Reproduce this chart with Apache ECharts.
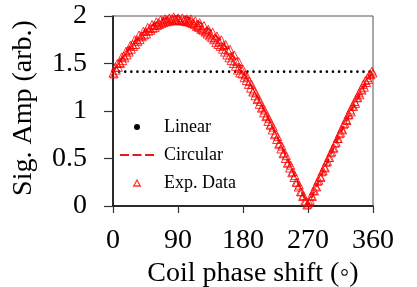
<!DOCTYPE html>
<html><head><meta charset="utf-8">
<script src="https://cdn.jsdelivr.net/npm/echarts@6/dist/echarts.min.js"></script>
<style>html,body{margin:0;padding:0;background:#fff}#c{width:417px;height:287px}</style>
</head><body><div id="c"></div>
<script>
// x ticks
const xTicks = [0, 90, 180, 270, 360];
const yTicks = [0, 0.5, 1, 1.5, 2];
// Linear (constant level)
const linearX = [0, 360];
const linearY = [1.414, 1.414];
// Circular model curve (every 5 deg)
const circX = [0,5,10,15,20,25,30,35,40,45,50,55,60,65,70,75,80,85,90,95,100,105,110,115,120,125,130,135,140,145,150,155,160,165,170,175,180,185,190,195,200,205,210,215,220,225,230,235,240,245,250,255,260,265,270,275,280,285,290,295,300,305,310,315,320,325,330,335,340,345,350,355,360];
const circY = [1.414,1.475,1.532,1.587,1.638,1.687,1.732,1.774,1.813,1.848,1.879,1.907,1.932,1.953,1.970,1.983,1.992,1.998,2.000,1.998,1.992,1.983,1.970,1.953,1.932,1.907,1.879,1.848,1.813,1.774,1.732,1.687,1.638,1.587,1.532,1.475,1.414,1.351,1.286,1.218,1.147,1.075,1.000,0.923,0.845,0.765,0.684,0.601,0.518,0.433,0.347,0.261,0.174,0.087,0.000,0.087,0.174,0.261,0.347,0.433,0.518,0.601,0.684,0.765,0.845,0.923,1.000,1.075,1.147,1.218,1.286,1.351,1.414];
// Experimental data, sweep 1 (every 3 deg)
const expX1 = [0,3,6,9,12,15,18,21,24,27,30,33,36,39,42,45,48,51,54,57,60,63,66,69,72,75,78,81,84,87,90,93,96,99,102,105,108,111,114,117,120,123,126,129,132,135,138,141,144,147,150,153,156,159,162,165,168,171,174,177,180,183,186,189,192,195,198,201,204,207,210,213,216,219,222,225,228,231,234,237,240,243,246,249,252,255,258,261,264,267,270,273,276,279,282,285,288,291,294,297,300,303,306,309,312,315,318,321,324,327,330,333,336,339,342,345,348,351,354,357,360];
const expY1 = [1.40,1.46,1.50,1.51,1.57,1.58,1.63,1.64,1.69,1.70,1.75,1.75,1.80,1.79,1.84,1.84,1.88,1.87,1.91,1.90,1.94,1.93,1.96,1.95,1.97,1.96,1.98,1.97,1.99,1.96,1.98,1.95,1.98,1.96,1.97,1.95,1.97,1.93,1.95,1.90,1.93,1.87,1.90,1.84,1.86,1.81,1.83,1.77,1.79,1.73,1.75,1.69,1.70,1.64,1.65,1.58,1.59,1.52,1.52,1.45,1.44,1.38,1.36,1.31,1.28,1.22,1.19,1.13,1.10,1.04,1.01,0.95,0.92,0.86,0.83,0.76,0.73,0.66,0.63,0.56,0.53,0.46,0.43,0.36,0.32,0.25,0.22,0.15,0.11,0.05,0.02,0.06,0.10,0.16,0.20,0.27,0.30,0.37,0.40,0.47,0.51,0.57,0.61,0.67,0.71,0.77,0.80,0.87,0.90,0.96,0.99,1.05,1.08,1.14,1.17,1.22,1.25,1.30,1.33,1.38,1.40];
// Experimental data, sweep 2 (every 3 deg, offset 1.5 deg)
const expX2 = [1.5,4.5,7.5,10.5,13.5,16.5,19.5,22.5,25.5,28.5,31.5,34.5,37.5,40.5,43.5,46.5,49.5,52.5,55.5,58.5,61.5,64.5,67.5,70.5,73.5,76.5,79.5,82.5,85.5,88.5,91.5,94.5,97.5,100.5,103.5,106.5,109.5,112.5,115.5,118.5,121.5,124.5,127.5,130.5,133.5,136.5,139.5,142.5,145.5,148.5,151.5,154.5,157.5,160.5,163.5,166.5,169.5,172.5,175.5,178.5,181.5,184.5,187.5,190.5,193.5,196.5,199.5,202.5,205.5,208.5,211.5,214.5,217.5,220.5,223.5,226.5,229.5,232.5,235.5,238.5,241.5,244.5,247.5,250.5,253.5,256.5,259.5,262.5,265.5,268.5,271.5,274.5,277.5,280.5,283.5,286.5,289.5,292.5,295.5,298.5,301.5,304.5,307.5,310.5,313.5,316.5,319.5,322.5,325.5,328.5,331.5,334.5,337.5,340.5,343.5,346.5,349.5,352.5,355.5,358.5];
const expY2 = [1.39,1.43,1.46,1.50,1.53,1.56,1.59,1.62,1.65,1.68,1.70,1.73,1.75,1.78,1.80,1.81,1.84,1.85,1.87,1.88,1.90,1.91,1.92,1.93,1.94,1.94,1.95,1.95,1.96,1.95,1.96,1.95,1.95,1.94,1.94,1.93,1.92,1.91,1.89,1.88,1.86,1.85,1.83,1.81,1.79,1.77,1.75,1.72,1.70,1.68,1.65,1.62,1.59,1.56,1.53,1.50,1.47,1.43,1.40,1.39,1.35,1.32,1.28,1.24,1.20,1.16,1.12,1.07,1.03,0.98,0.94,0.89,0.85,0.80,0.75,0.70,0.65,0.60,0.55,0.50,0.45,0.40,0.35,0.30,0.25,0.20,0.15,0.10,0.05,0.01,0.04,0.11,0.16,0.21,0.26,0.31,0.36,0.41,0.46,0.51,0.56,0.61,0.66,0.71,0.76,0.81,0.86,0.91,0.96,1.01,1.05,1.10,1.14,1.19,1.23,1.28,1.32,1.35,1.39,1.42];

const zip = (a, b) => a.map((v, i) => [v, b[i]]);
const serif = 'Liberation Serif';
const chart = echarts.init(document.getElementById('c'), null, {renderer: 'canvas'});
chart.setOption({
  animation: false,
  backgroundColor: '#fff',
  grid: {left: 113, right: 44, top: 16, bottom: 81, show: true, borderColor: '#555', borderWidth: 1,
    containLabel: false, outerBoundsMode: 'none'},
  xAxis: {
    type: 'value', min: 0, max: 360, interval: 90,
    name: 'Coil phase shift (\u25E6)', nameLocation: 'middle', nameGap: 42,
    nameTextStyle: {fontFamily: serif, fontSize: 28, color: '#000', padding: [0, 0, 0, 20]},
    axisLine: {show: true, lineStyle: {color: '#000', width: 1.5}},
    axisTick: {show: true, length: 7, inside: false, lineStyle: {color: '#333', width: 1.2}},
    axisLabel: {fontFamily: serif, fontSize: 28, color: '#000', margin: 21,
      formatter: v => xTicks.includes(v) ? String(v) : ''},
    splitLine: {show: false}
  },
  yAxis: {
    type: 'value', min: 0, max: 2, interval: 0.5,
    name: 'Sig. Amp (arb.)', nameLocation: 'middle', nameGap: 75, nameRotate: 90,
    nameTextStyle: {fontFamily: serif, fontSize: 28, color: '#000', padding: [0, 0, 0, 6]},
    axisLine: {show: true, lineStyle: {color: '#000', width: 1.5}},
    axisTick: {show: true, length: 9, inside: false, lineStyle: {color: '#333', width: 1.2}},
    axisLabel: {fontFamily: serif, fontSize: 28, color: '#000', margin: 26,
      formatter: v => yTicks.includes(v) ? String(v) : ''},
    splitLine: {show: false}
  },
  legend: {
    orient: 'vertical', left: 115, top: 113,
    itemWidth: 34, itemHeight: 6, itemGap: 10,
    symbolKeepAspect: true,
    textStyle: {fontFamily: serif, fontSize: 18, color: '#000', lineHeight: 18, padding: [0, 0, 0, 5]},
    data: [
      {name: 'Linear', icon: 'circle', itemStyle: {color: '#000'}},
      {name: 'Circular', icon: 'path://M0,0h9v2h-9z M12.5,0h9v2h-9z M25,0h9v2h-9z', itemStyle: {color: '#e41a1c', borderWidth: 0}},
      {name: 'Exp. Data', icon: 'path://M5,0L10,9L0,9Z', itemStyle: {color: 'rgba(0,0,0,0)', borderColor: '#ff0000', borderWidth: 1.3}}
    ]
  },
  series: [
    {
      name: 'Linear', type: 'line', data: zip(linearX, linearY), symbol: 'none',
      itemStyle: {color: '#000'},
      lineStyle: {color: '#000', width: 2.6, type: [0.01, 6.1], cap: 'round'},
      z: 3
    },
    {
      name: 'Circular', type: 'line', data: zip(circX, circY), symbol: 'none',
      itemStyle: {color: '#e41a1c'},
      lineStyle: {color: '#e41a1c', width: 2, type: [7, 5]},
      z: 2
    },
    {
      name: 'Exp. Data', type: 'scatter', data: zip(expX1, expY1).concat(zip(expX2, expY2)),
      symbol: 'triangle', symbolSize: 8,
      itemStyle: {color: 'rgba(0,0,0,0)', borderColor: '#ff0000', borderWidth: 1}, clip: false,
      z: 4
    }
  ]
});
</script></body></html>
